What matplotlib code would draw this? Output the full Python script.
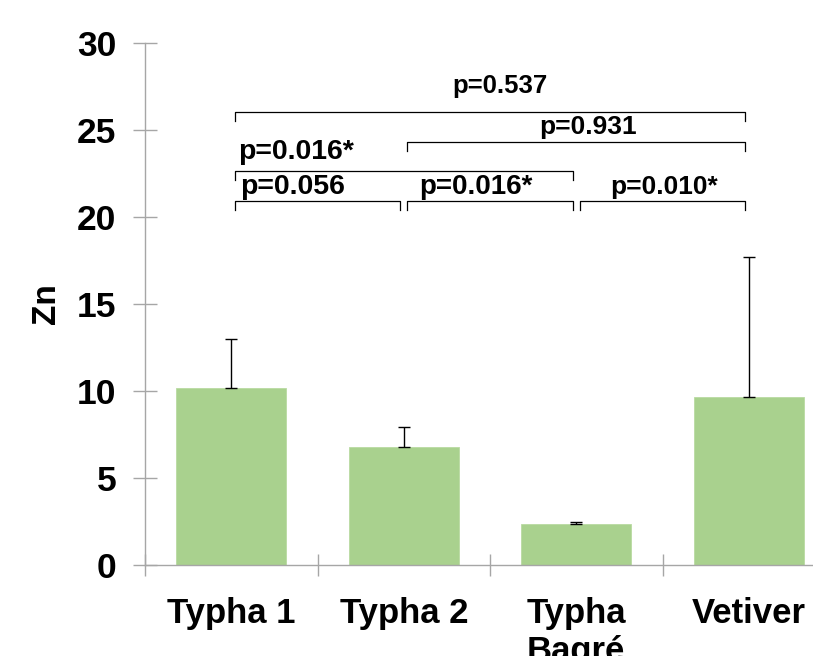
import matplotlib
matplotlib.use("Agg")
import matplotlib.pyplot as plt
from matplotlib.ticker import FixedLocator

categories = ["Typha 1", "Typha 2", "Typha\nBagré", "Vetiver"]
values = [10.17, 6.81, 2.35, 9.63]
err_plus = [2.83, 1.11, 0.1, 8.07]

# comparisons: (i, j, label, bracket_y, text_y, text_x, ha, fontsize)
comp_i = [0, 1, 0, 0, 1, 2]
comp_j = [3, 3, 2, 1, 2, 3]
comp_label = ["p=0.537", "p=0.931", "p=0.016*", "p=0.056", "p=0.016*", "p=0.010*"]
comp_y = [26.03, 24.3, 22.64, 20.92, 20.92, 20.92]
comp_text_y = [27.5, 25.2, 23.75, 21.75, 21.75, 21.75]
comp_text_x = [1.56, 2.07, 0.04, 0.05, 1.42, 2.51]
comp_ha = ["center", "center", "left", "left", "center", "center"]
comp_fs = [18.5, 19, 20.5, 20.5, 20, 19]

FONT = ["Liberation Sans", "DejaVu Sans"]
plt.rcParams["font.family"] = FONT
plt.rcParams["font.weight"] = "bold"

fig = plt.figure(figsize=(8.13, 6.56), dpi=100)
ax = fig.add_axes([145 / 813, 91 / 656, 690 / 813, 522 / 656])

x = list(range(len(categories)))
grey = "#A6A6A6"
ax.bar(x, values, width=0.635, color="#A9D18E", edgecolor="#B9DBA2", linewidth=0.6, zorder=2)
ax.errorbar(x, values, yerr=[[0] * len(values), err_plus], fmt="none", ecolor="black",
            elinewidth=1.0, capsize=4.5, capthick=1.0, zorder=3)

ax.set_xlim(-0.5, 3.5)
ax.set_ylim(0, 30)
ax.set_yticks([0, 5, 10, 15, 20, 25, 30])
ax.set_xticks(x)
ax.set_xticklabels(categories, fontsize=25, fontweight="bold")
ax.xaxis.set_minor_locator(FixedLocator([-0.5, 0.5, 1.5, 2.5, 3.5]))
ax.tick_params(axis="x", which="major", length=0, pad=23)
ax.tick_params(axis="x", which="minor", direction="inout", length=16, width=1.0, color=grey)
ax.tick_params(axis="y", which="major", direction="inout", length=17, width=1.0, color=grey,
               labelsize=25.5, pad=12)
for lab in ax.get_yticklabels():
    lab.set_fontweight("bold")

for s in ["top", "right"]:
    ax.spines[s].set_visible(False)
for s in ["left", "bottom"]:
    ax.spines[s].set_color(grey)
    ax.spines[s].set_linewidth(1.0)
ax.spines["bottom"].set_zorder(4)

ax.set_ylabel("Zn", fontsize=24, fontweight="bold", labelpad=11)

drop = 0.52
for i, j, lab, yb, ty, tx, ha, fs in zip(comp_i, comp_j, comp_label, comp_y, comp_text_y,
                                         comp_text_x, comp_ha, comp_fs):
    x0, x1 = i + 0.02, j - 0.02
    ax.plot([x0, x0, x1, x1], [yb - drop, yb, yb, yb - drop], color="black", lw=0.9,
            clip_on=False, zorder=3)
    ax.text(tx, ty, lab, ha=ha, va="center", fontsize=fs, fontweight="bold")

fig.savefig("out.png", dpi=100)
